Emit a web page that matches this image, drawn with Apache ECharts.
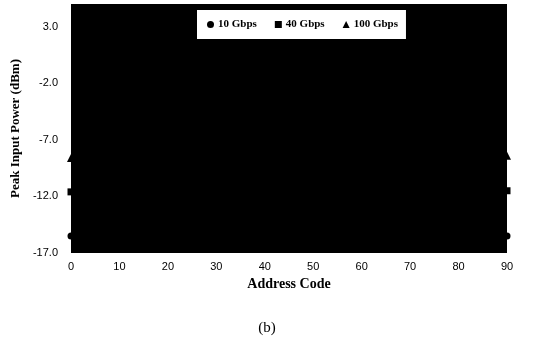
<!DOCTYPE html>
<html>
<head>
<meta charset="utf-8">
<script src="https://cdn.jsdelivr.net/npm/echarts@6/dist/echarts.min.js"></script>
<style>
  html, body { margin: 0; padding: 0; background: #fff; }
  #chart { width: 534px; height: 342px; }
</style>
</head>
<body>
<div id="chart"></div>
<script>
// values (only the ends are visible outside the dark plot area)
const addressCodes = [0, 90];
const gbps10 = [-15.5, -15.5];
const gbps40 = [-11.6, -11.5];
const gbps100 = [-8.6, -8.4];
const yTicks = [-17, -12, -7, -2, 3];
const seriesNames = ["10 Gbps", "40 Gbps", "100 Gbps"];

const ink = "#000000";
const serif = "'Liberation Serif', 'DejaVu Serif', serif";
const sans = "'Liberation Sans', Arial, sans-serif";

const pairs = ys => addressCodes.map((x, i) => [x, ys[i]]);
const seriesStyle = (name, data, symbol, size) => ({
  name,
  type: "line",
  data: pairs(data),
  symbol,
  symbolSize: size,
  itemStyle: { color: ink },
  lineStyle: { color: ink, width: 1 },
  clip: false,
  z: 3
});

const chart = echarts.init(document.getElementById("chart"), null, { renderer: "canvas" });
chart.setOption({
  animation: false,
  backgroundColor: "#ffffff",
  title: {
    text: "(b)",
    left: "center",
    top: 316,
    textStyle: { fontFamily: serif, fontWeight: "normal", fontSize: 15, color: ink }
  },
  legend: {
    data: [
      { name: seriesNames[0], icon: "circle" },
      { name: seriesNames[1], icon: "rect" },
      { name: seriesNames[2], icon: "triangle" }
    ],
    left: 197,
    top: 10,
    padding: [9, 8, 9, 10],
    itemWidth: 7,
    itemHeight: 7,
    itemGap: 18,
    backgroundColor: "#ffffff",
    textStyle: { fontFamily: serif, fontWeight: "bold", fontSize: 11, color: ink, padding: [0, 0, 0, -1] }
  },
  grid: {
    left: 71,
    right: 27,
    top: 4,
    bottom: 89,
    show: true,
    backgroundColor: "#000000",
    borderWidth: 0
  },
  xAxis: {
    type: "value",
    min: 0,
    max: 90,
    interval: 10,
    name: "Address Code",
    nameLocation: "middle",
    nameGap: 22,
    nameTextStyle: { fontFamily: serif, fontWeight: "bold", fontSize: 14, color: ink },
    axisLine: { show: false },
    axisTick: { show: false },
    splitLine: { show: false },
    axisLabel: { fontFamily: sans, fontSize: 11, color: ink, margin: 8 }
  },
  yAxis: {
    type: "value",
    min: -17,
    max: 5,
    name: "Peak Input Power (dBm)",
    nameLocation: "middle",
    nameGap: 47,
    nameTextStyle: { fontFamily: serif, fontWeight: "bold", fontSize: 13, color: ink },
    axisLine: { show: false },
    axisTick: { show: false },
    splitLine: { show: false },
    axisLabel: {
      customValues: yTicks,
      formatter: v => v.toFixed(1),
      fontFamily: sans,
      fontSize: 11,
      color: ink,
      margin: 13
    }
  },
  series: [
    seriesStyle(seriesNames[0], gbps10, "circle", 7),
    seriesStyle(seriesNames[1], gbps40, "rect", 7),
    seriesStyle(seriesNames[2], gbps100, "triangle", 8)
  ]
});
</script>
</body>
</html>
